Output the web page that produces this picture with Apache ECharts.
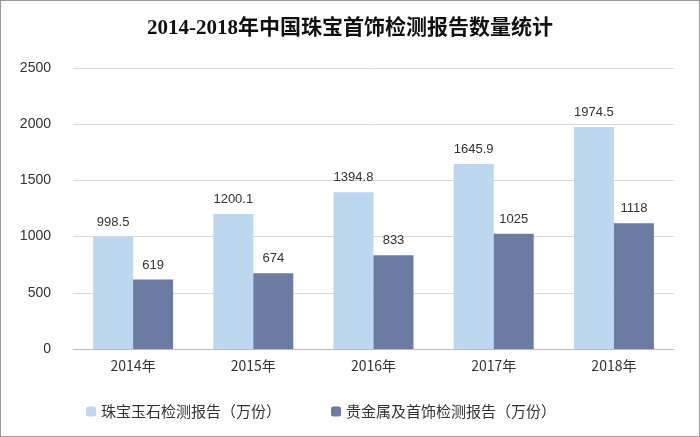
<!DOCTYPE html>
<html><head><meta charset="utf-8">
<script src="https://cdn.jsdelivr.net/npm/echarts@6/dist/echarts.min.js"></script>
<style>html,body{margin:0;padding:0;background:#fff}#c{width:700px;height:437px;box-sizing:border-box;border:1px solid #999}</style>
</head><body><div id="c"></div>
<script>
const categories=['2014年','2015年','2016年','2017年','2018年'];
const jewelry=[998.5,1200.1,1394.8,1645.9,1974.5];
const metal=[619,674,833,1025,1118];
const seriesNames=['珠宝玉石检测报告（万份）','贵金属及首饰检测报告（万份）'];
const chart=echarts.init(document.getElementById('c'));
const lbl={show:true,position:'top',color:'#333',fontSize:13,fontFamily:'Liberation Sans, Arial',distance:8};
chart.setOption({
 animation:false,
 title:{text:'2014-2018年中国珠宝首饰检测报告数量统计',left:'center',top:12,textStyle:{fontSize:21,fontWeight:'bold',color:'#111',fontFamily:'Liberation Serif, Noto Sans CJK SC'}},
 legend:{bottom:12,left:80,itemWidth:10,itemHeight:10,itemGap:50,textStyle:{fontSize:15,color:'#333',fontFamily:'Noto Sans CJK SC'},data:seriesNames},
 grid:{left:72,right:25,top:67,bottom:87},
 xAxis:{type:'category',data:categories,axisTick:{show:false},axisLine:{lineStyle:{color:'#bbb'}},axisLabel:{color:'#333',fontSize:14,margin:10,fontFamily:'Noto Sans CJK SC'}},
 yAxis:{type:'value',min:0,max:2500,interval:500,axisLabel:{color:'#333',fontSize:14,margin:22,fontFamily:'Liberation Sans, Arial',formatter:v=>String(v)},splitLine:{lineStyle:{color:'#d9d9d9'}}},
 series:[
  {name:seriesNames[0],type:'bar',data:jewelry,barWidth:40,barGap:'0%',itemStyle:{color:'#BDD7EE'},label:lbl},
  {name:seriesNames[1],type:'bar',data:metal,barWidth:40,itemStyle:{color:'#6B7BA2'},label:lbl}
 ]
});
</script></body></html>
